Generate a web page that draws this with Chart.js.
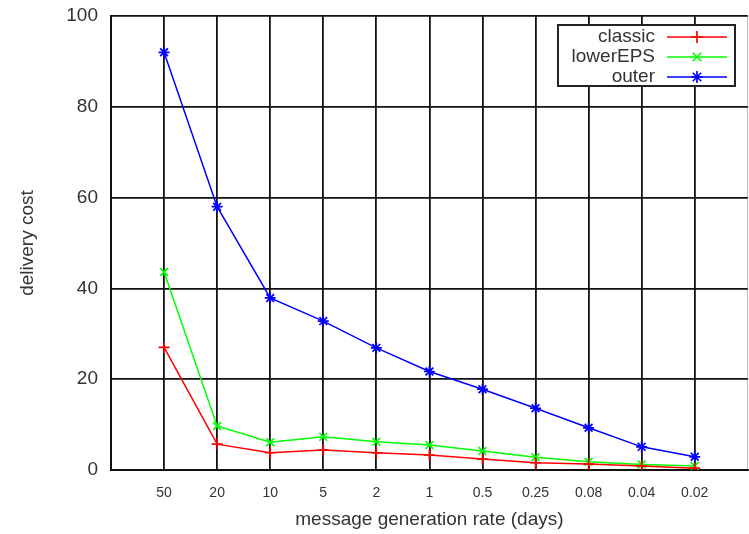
<!DOCTYPE html>
<html>
<head>
<meta charset="utf-8">
<script src="https://cdn.jsdelivr.net/npm/chart.js@4/dist/chart.umd.min.js"></script>
<style>
html,body{margin:0;padding:0;background:#fff;overflow:hidden;}
#wrap{width:749px;height:534px;position:relative;overflow:hidden;}
#c{display:block;}
</style>
</head>
<body>
<div id="wrap"><canvas id="c" width="755" height="534"></canvas></div>
<script>
const categories = ["50","20","10","5","2","1","0.5","0.25","0.08","0.04","0.02"];
const classic  = [27.0, 5.7, 3.8, 4.4, 3.8, 3.3, 2.4, 1.6, 1.3, 0.9, 0.4];
const lowerEPS = [43.6, 9.7, 6.1, 7.3, 6.2, 5.5, 4.2, 2.8, 1.8, 1.2, 0.9];
const outer    = [92.0, 58.0, 37.9, 32.8, 26.9, 21.7, 17.8, 13.6, 9.3, 5.1, 2.9];
const yTicks = [0, 20, 40, 60, 80, 100];
const seriesNames = ["classic", "lowerEPS", "outer"];
const seriesColors = ["#ff0000", "#00ff00", "#0000ff"];
const seriesStyles = ["cross", "crossRot", "star"];

const FONT = "'Liberation Sans', Arial, Helvetica, sans-serif";

function toXY(vals){ return vals.map((v,i)=>({x:i+1, y:v})); }

const seriesData = [classic, lowerEPS, outer];
const datasets = seriesNames.map((n,i)=>({
  label:n,
  data:toXY(seriesData[i]),
  borderColor:seriesColors[i],
  backgroundColor:seriesColors[i],
  borderWidth:1.5,
  pointStyle:seriesStyles[i],
  pointRadius:5.5,
  pointBorderWidth:1.7,
  pointHoverRadius:5.5,
  tension:0,
  fill:false
}));

const legendPlugin = {
  id:'gpLegend',
  afterDatasetsDraw(chart){
    const ctx = chart.ctx;
    const bx = 558, by = 25, bw = 177, bh = 61;
    ctx.save();
    ctx.fillStyle = '#fff';
    ctx.fillRect(bx, by, bw, bh);
    ctx.strokeStyle = '#222';
    ctx.lineWidth = 2;
    ctx.strokeRect(bx, by, bw, bh);
    ctx.font = '19px ' + FONT;
    ctx.textAlign = 'right';
    ctx.textBaseline = 'middle';
    seriesNames.forEach((n,i)=>{
      const y = 37 + i*20;
      ctx.fillStyle = '#333';
      ctx.fillText(n, 655, y);
      ctx.strokeStyle = seriesColors[i];
      ctx.lineWidth = 1.7;
      ctx.beginPath(); ctx.moveTo(667, y); ctx.lineTo(727, y); ctx.stroke();
      if (Chart.helpers && Chart.helpers.drawPoint) {
        ctx.fillStyle = seriesColors[i];
        Chart.helpers.drawPoint(ctx, {pointStyle:seriesStyles[i], radius:6, borderWidth:1.7, rotation:0}, 697, y);
      }
    });
    ctx.restore();
  }
};

new Chart(document.getElementById('c'), {
  type:'line',
  data:{datasets},
  options:{
    responsive:false,
    animation:false,
    events:[],
    layout:{padding:{top:16, right:1, left:0, bottom:0}},
    plugins:{legend:{display:false}, tooltip:{enabled:false}},
    scales:{
      x:{
        type:'linear', min:0, max:12,
        afterBuildTicks(scale){
          const t = [];
          for(let i=0;i<=12;i++) t.push({value:i});
          scale.ticks = t;
        },
        afterFit(scale){ scale.height = 64; scale.paddingLeft = 0; scale.paddingRight = 0; },
        ticks:{
          autoSkip:false, maxRotation:0, padding:15, color:'#333',
          font:{family:FONT, size:14},
          callback(v){ return (v>=1 && v<=11) ? categories[v-1] : ''; }
        },
        grid:{
          drawTicks:false,
          color(ctx){ return ctx.tick && ctx.tick.value===12 ? '#bbbbbb' : '#111'; },
          lineWidth(ctx){ return ctx.tick && ctx.tick.value===12 ? 1 : 1.8; }
        },
        border:{color:'#111', width:2},
        title:{display:true, text:'message generation rate (days)', color:'#333',
               font:{family:FONT, size:19}, padding:{top:0, bottom:3}}
      },
      y:{
        type:'linear', min:0, max:100,
        afterBuildTicks(scale){ scale.ticks = yTicks.map(v=>({value:v})); },
        afterFit(scale){ scale.width = 111; scale.paddingTop = 0; scale.paddingBottom = 0; },
        ticks:{padding:13, color:'#333', font:{family:FONT, size:19}},
        grid:{drawTicks:false, color:'#111', lineWidth:1.8},
        border:{color:'#111', width:2},
        title:{display:true, text:'delivery cost', color:'#333',
               font:{family:FONT, size:19}, padding:{top:16, bottom:0}}
      }
    }
  },
  plugins:[legendPlugin]
});
</script>
</body>
</html>
